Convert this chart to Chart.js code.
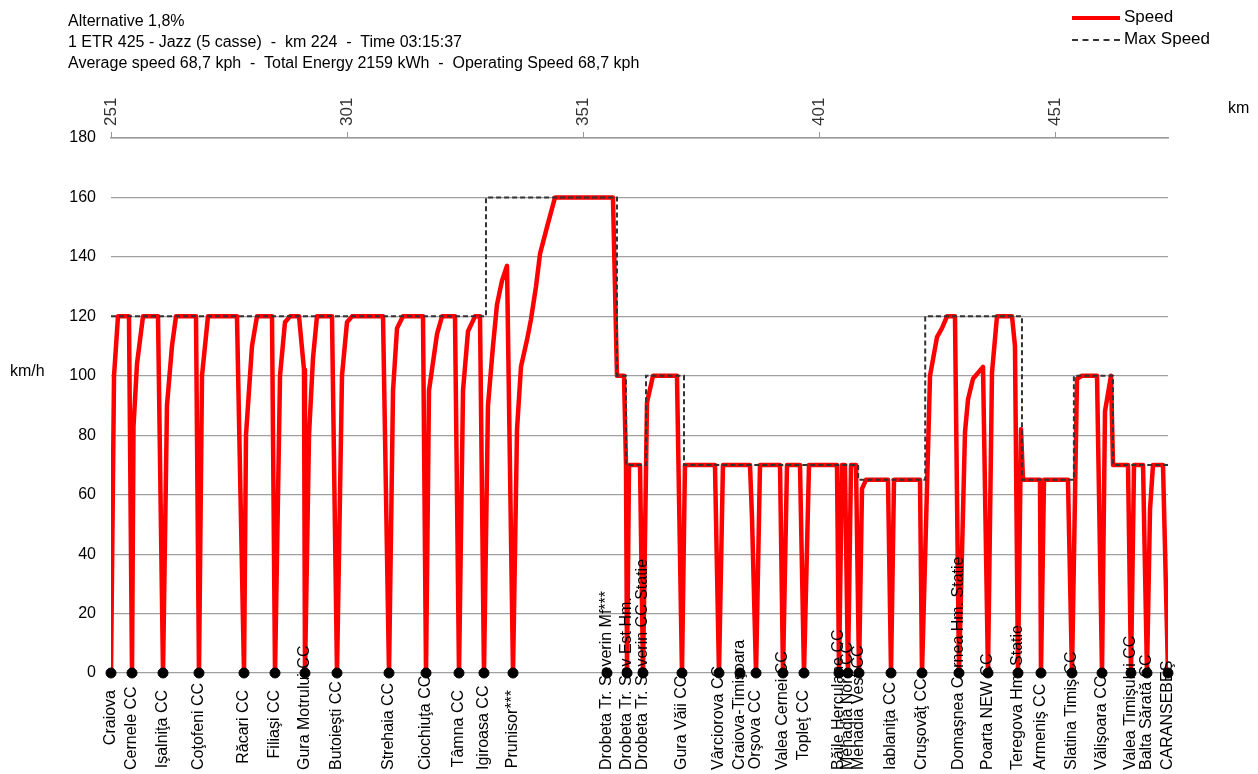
<!DOCTYPE html>
<html>
<head>
<meta charset="utf-8">
<script src="https://cdn.jsdelivr.net/npm/chart.js@4.4.1/dist/chart.umd.min.js"></script>
<style>
  body { margin: 0; background: #fff; font-family: "Liberation Sans", Arial, sans-serif; }
  #wrap { position: relative; width: 1258px; height: 774px; }
  #title { position: absolute; left: 68px; top: 10px; font-size: 16px; line-height: 21px; color: #000; }
  .leg { position: absolute; left: 1072px; font-size: 17px; color: #000; }
  .leg span { display: inline-block; width: 48px; vertical-align: middle; margin-right: 4px; }
  .axlab { position: absolute; font-size: 16px; color: #000; }
</style>
</head>
<body>
<div id="wrap">
  <canvas id="chart" width="1258" height="774"></canvas>
  <div id="title">
    Alternative 1,8%<br>
    1 ETR 425 - Jazz (5 casse)&nbsp; -&nbsp; km 224&nbsp; -&nbsp; Time 03:15:37<br>
    Average speed 68,7 kph&nbsp; -&nbsp; Total Energy 2159 kWh&nbsp; -&nbsp; Operating Speed 68,7 kph
  </div>
  <div class="leg" style="top:7px"><span style="border-top:4px solid #ff0000"></span>Speed</div>
  <div class="leg" style="top:29px"><span style="border-top:2px dashed #333"></span>Max Speed</div>
  <div class="axlab" style="left:10px;top:362px">km/h</div>
  <div class="axlab" style="left:1228px;top:99px">km</div>
</div>
<script>
// stazioni (km) e nomi
const stationKm = [251.0, 255.45, 262.02, 269.64, 279.18, 285.75, 292.1, 298.88, 309.9, 317.74,
  324.73, 330.02, 336.17, 356.08, 360.33, 363.71, 371.97, 379.81, 384.26, 387.66,
  393.37, 397.82, 405.24, 407.14, 409.48, 416.26, 422.82, 430.66, 436.8, 443.16,
  448.03, 454.6, 460.96, 467.1, 470.49, 474.94];
const stationNames = ['Craiova', 'Cernele CC', 'Işalniţa CC', 'Coţofeni CC', 'Răcari CC', 'Filiaşi CC',
  'Gura Motrului CC', 'Butoieşti CC', 'Strehaia CC', 'Ciochiuţa CC', 'Tâmna CC', 'Igiroasa CC',
  'Prunisor***', 'Drobeta Tr. Severin Mf***', 'Drobeta Tr. Sev Est Hm.', 'Drobeta Tr. Severin CC Statie',
  'Gura Văii CC', 'Vârciorova CC', 'Craiova-Timişoara', 'Orşova CC', 'Valea Cernei CC', 'Topleţ CC',
  'Băile Herculane CC', 'Mehadia Nord CC', 'Mehadia Vest CC', 'Iablaniţa CC', 'Cruşovăţ CC',
  'Domaşnea Cornea Hm. Statie', 'Poarta NEW CC', 'Teregova Hm. Statie', 'Armeniş CC',
  'Slatina Timiş CC', 'Vălişoara CC', 'Valea Timişului CC', 'Balta Sărată CC', 'CARANSEBEŞ'];

// profilo di velocità (km, km/h)
const speedKm = [251.0, 251.64, 252.48, 254.81, 255.45, 255.77, 256.51, 257.78, 260.96, 262.02,
  262.86, 263.92, 264.77, 269.01, 269.64, 270.28, 271.55, 277.69, 279.18, 279.6,
  280.87, 281.93, 285.11, 285.75, 286.81, 287.86, 288.92, 290.83, 291.89, 292.1,
  292.95, 293.8, 294.64, 297.82, 298.88, 299.94, 301.0, 302.06, 308.63, 309.9,
  310.75, 311.6, 312.86, 317.1, 317.74, 318.37, 320.07, 321.13, 323.88, 324.73,
  325.58, 326.64, 328.12, 329.18, 330.02, 330.87, 331.93, 332.78, 333.84, 334.9,
  336.17, 337.02, 337.86, 339.13, 339.98, 341.04, 341.89, 343.37, 345.07, 357.35,
  358.2, 359.69, 360.11, 360.33, 360.75, 363.08, 363.71, 364.56, 365.83, 370.91,
  371.97, 372.6, 378.96, 379.81, 380.65, 386.38, 386.81, 387.66, 388.5, 392.74,
  393.37, 394.22, 396.97, 397.82, 398.88, 404.81, 405.24, 405.86, 406.5, 407.14,
  407.78, 408.84, 409.48, 410.11, 410.96, 415.62, 416.26, 416.89, 422.4, 422.82,
  424.52, 426.0, 427.06, 428.12, 429.81, 430.66, 431.93, 432.57, 433.63, 435.75,
  436.8, 437.65, 438.71, 441.89, 442.52, 443.16, 443.8, 444.22, 447.82, 448.03,
  448.67, 453.75, 454.6, 455.66, 456.72, 459.9, 460.96, 461.59, 462.86, 463.29,
  466.47, 467.1, 467.74, 469.65, 470.49, 471.13, 471.76, 473.88, 474.94];
const speedVal = [0, 100, 120, 120, 0, 83, 104, 120, 120, 0,
  90, 110, 120, 120, 0, 100, 120, 120, 0, 80,
  110, 120, 120, 0, 100, 118, 120, 120, 102, 0,
  80, 106, 120, 120, 0, 100, 118, 120, 120, 0,
  95, 116, 120, 120, 0, 95, 114, 120, 120, 0,
  95, 115, 120, 120, 0, 90, 110, 124, 132, 137,
  0, 82, 103, 112, 119, 130, 141, 150, 160, 160,
  100, 100, 70, 0, 70, 70, 0, 91, 100, 100,
  0, 70, 70, 0, 70, 70, 52, 0, 70, 70,
  0, 70, 70, 0, 70, 70, 0, 70, 70, 0,
  70, 70, 0, 62, 65, 65, 0, 65, 65, 0,
  100, 113, 116, 120, 120, 0, 81, 92, 99, 103,
  0, 101, 120, 120, 110, 0, 82, 65, 65, 0,
  65, 65, 0, 99, 100, 100, 0, 88, 100, 70,
  70, 0, 70, 70, 0, 55, 70, 70, 0];

// velocità massima (a gradini)
const maxKm = [251.0, 330.45, 330.45, 358.2, 358.2, 360.1, 360.1, 364.35, 364.35, 372.4,
  372.4, 409.3, 409.3, 423.5, 423.5, 444.0, 444.0, 455.0, 455.0, 463.3, 463.3, 474.94];
const maxVal = [120, 120, 160, 160, 100, 100, 70, 70, 100, 100,
  70, 70, 65, 65, 120, 120, 65, 65, 100, 100, 70, 70];

const topTicks = [251, 301, 351, 401, 451];

const FONT = '"Liberation Sans", Arial, sans-serif';

// etichette ruotate: km in alto e stazioni sotto l'asse
const rotatedLabels = {
  id: 'rotatedLabels',
  afterDraw(chart) {
    const ctx = chart.ctx;
    const xs = chart.scales.x;
    ctx.save();
    ctx.textAlign = 'left';
    ctx.textBaseline = 'middle';

    ctx.font = '17px ' + FONT;
    ctx.fillStyle = '#333';
    topTicks.forEach(v => {
      ctx.save();
      ctx.translate(xs.getPixelForValue(v), 126);
      ctx.rotate(-Math.PI / 2);
      ctx.fillText(String(v), 0, 0);
      ctx.restore();
    });

    ctx.font = '16px ' + FONT;
    ctx.fillStyle = '#000';
    stationNames.forEach((name, i) => {
      const px = xs.getPixelForValue(stationKm[i]);
      const w = ctx.measureText(name).width;
      const startY = Math.min(690 + w, 770);
      ctx.save();
      ctx.translate(px, startY);
      ctx.rotate(-Math.PI / 2);
      ctx.fillText(name, 0, 0);
      ctx.restore();
    });
    ctx.restore();
  }
};

new Chart(document.getElementById('chart'), {
  type: 'line',
  data: {
    datasets: [
      {
        label: 'Stations',
        data: stationKm.map(k => ({ x: k, y: 0 })),
        showLine: false,
        pointRadius: 5,
        pointBackgroundColor: '#000',
        pointBorderColor: '#000',
        clip: false,
        order: 0
      },
      {
        label: 'Max Speed',
        data: maxKm.map((k, i) => ({ x: k, y: maxVal[i] })),
        borderColor: '#333',
        borderWidth: 2,
        borderDash: [5, 3],
        pointRadius: 0,
        tension: 0,
        order: 1
      },
      {
        label: 'Speed',
        data: speedKm.map((k, i) => ({ x: k, y: speedVal[i] })),
        borderColor: '#ff0000',
        borderWidth: 4.5,
        pointRadius: 0,
        tension: 0,
        borderJoinStyle: 'round',
        order: 2
      }
    ]
  },
  options: {
    responsive: false,
    animation: false,
    layout: { padding: { left: 0, top: 0, right: 90, bottom: 101 } },
    plugins: { legend: { display: false }, tooltip: { enabled: false } },
    scales: {
      x: {
        type: 'linear',
        position: 'top',
        min: 251,
        max: 474.94,
        afterBuildTicks: s => { s.ticks = topTicks.map(v => ({ value: v })); },
        afterFit: s => { s.height = 138; },
        grid: { drawOnChartArea: false, drawTicks: true, tickLength: 6, color: '#999' },
        border: { display: true, color: '#999', width: 1.5 },
        ticks: { display: false }
      },
      y: {
        min: 0,
        max: 180,
        afterFit: s => { s.width = 111; },
        grid: { drawTicks: false, color: '#a0a0a0', lineWidth: 1.2 },
        border: { display: false },
        ticks: { stepSize: 20, padding: 15, color: '#000', font: { size: 16, family: FONT } }
      }
    }
  },
  plugins: [rotatedLabels]
});
</script>
</body>
</html>
